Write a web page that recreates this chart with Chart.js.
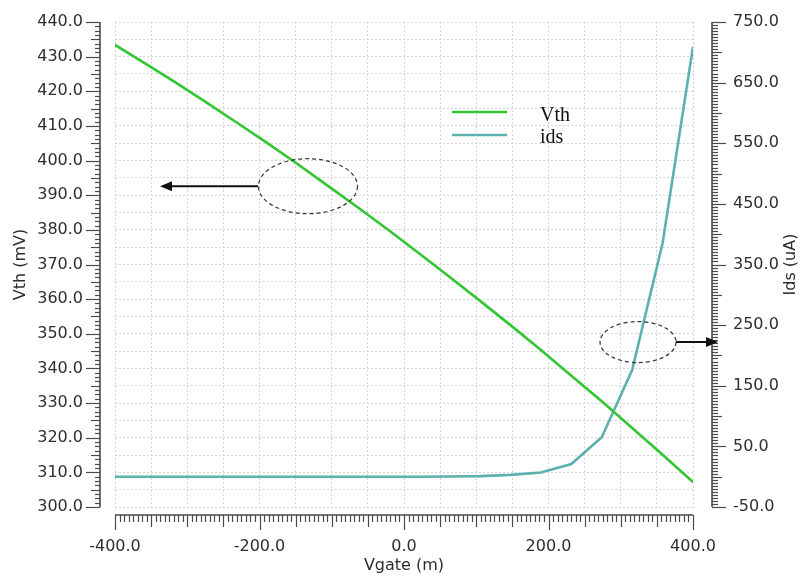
<!DOCTYPE html>
<html>
<head>
<meta charset="utf-8">
<script src="https://cdn.jsdelivr.net/npm/chart.js@4.4.1/dist/chart.umd.min.js"></script>
<style>
  html, body { margin: 0; padding: 0; background: #fff; }
  #wrap { width: 800px; height: 578px; }
</style>
</head>
<body>
<div id="wrap"><canvas id="c" width="800" height="578"></canvas></div>
<script>
"use strict";

// ── Data ─────────────────────────────────────────────────────────────────────
const VGATE = [-400, -357.9, -315.8, -273.7, -231.6, -189.5, -147.4, -105.3, -63.2, -21.1,
               21.1, 63.2, 105.3, 147.4, 189.5, 231.6, 273.7, 315.8, 357.9, 400];
const VTH   = [433.4, 428.0, 422.5, 416.8, 411.0, 405.1, 399.0, 392.7, 386.4, 379.9,
               373.2, 366.4, 359.5, 352.5, 345.3, 337.9, 330.5, 322.8, 315.1, 307.2];
const IDS   = [0, 0, 0, 0, 0, 0, 0, 0, 0, 0,
               0, 0.3, 1, 3, 7, 21, 65, 176, 385, 709];

const X_LABELS   = [-400, -200, 0, 200, 400];
const VTH_LABELS = [300, 310, 320, 330, 340, 350, 360, 370, 380, 390, 400, 410, 420, 430, 440];
const IDS_TICKS  = [-50, 50, 150, 250, 350, 450, 550, 650, 750];

const SERIES_NAMES = ["Vth", "ids"];
const GREEN = "#33c633";
const TEAL  = "#5cb1ae";

// ── Annotation ovals + arrows (data coords) ──
const NOTES = [
  { axis: "y",  cx: -132.9, cy: 392.6, rx: 49.5, ry: 27.5, from: -202.1, to: -337.7 },
  { axis: "y1", cx: 323.9,  cy: 222,   rx: 38,   ry: 20.5, from: 376.5,  to: 434.6 },
];

Chart.defaults.font.family = "'DejaVu Sans', sans-serif";
Chart.defaults.font.size = 16;
Chart.defaults.color = "#2e2e2e";

// tick marks are kept invisible: they only push the labels away from the plot
// (ticks.padding would also inflate the layout's top padding)
const gridWith = len => ({ color: "#d4d4d4", lineWidth: 1, drawTicks: true, tickLength: len, tickColor: "rgba(0,0,0,0)" });
const BORDER = { display: false, dash: [2, 2] };

function isMult(v, step) {
  const r = Math.abs(v / step - Math.round(v / step));
  return r < 1e-6;
}

// ── Ruler axes, titles, legend, annotations ──
const decorPlugin = {
  id: "decor",
  afterDraw(chart) {
    const { ctx, chartArea: a, scales } = chart;
    const x = scales.x, y = scales.y, y1 = scales.y1;
    ctx.save();
    ctx.strokeStyle = "#4a4a4a";

    const seg = (x0, y0, x1, y1_) => { ctx.beginPath(); ctx.moveTo(x0, y0); ctx.lineTo(x1, y1_); ctx.stroke(); };

    // left ruler
    const lx = a.left - 15;
    ctx.lineWidth = 1.6;
    seg(lx, a.top, lx, a.bottom);
    ctx.lineWidth = 1.2;
    for (let v = 300; v <= 440.001; v += 1.25) {
      const py = Math.round(y.getPixelForValue(v)) + 0.5;
      const len = isMult(v, 10) ? 14 : isMult(v, 5) ? 9 : 5;
      seg(lx, py, lx - len, py);
    }

    // right ruler
    const rx = a.right + 19;
    ctx.lineWidth = 1.6;
    seg(rx, a.top, rx, a.bottom);
    ctx.lineWidth = 1.2;
    for (let v = -50; v <= 750.001; v += 5) {
      const py = Math.round(y1.getPixelForValue(v)) + 0.5;
      const len = isMult(v + 50, 100) ? 14 : isMult(v, 50) ? 10 : 6;
      seg(rx, py, rx + len, py);
    }

    // bottom ruler
    const by = a.bottom + 8;
    ctx.lineWidth = 1.6;
    seg(a.left, by, a.right, by);
    ctx.lineWidth = 1.2;
    for (let v = -400; v <= 400.001; v += 6.25) {
      const px = Math.round(x.getPixelForValue(v)) + 0.5;
      const len = isMult(v, 200) ? 15 : isMult(v, 50) ? 12 : 7;
      seg(px, by, px, by + len);
    }

    // axis titles
    ctx.fillStyle = "#2e2e2e";
    ctx.font = "16px 'DejaVu Sans'";
    ctx.textAlign = "center";
    ctx.textBaseline = "middle";
    ctx.fillText("Vgate (m)", (a.left + a.right) / 2, 566);
    const midY = (a.top + a.bottom) / 2;
    [["Vth (mV)", 21], ["Ids (uA)", 791]].forEach(([t, tx]) => {
      ctx.save();
      ctx.translate(tx, midY);
      ctx.rotate(-Math.PI / 2);
      ctx.fillText(t, 0, 0);
      ctx.restore();
    });

    // legend
    const ds = chart.data.datasets;
    ctx.textAlign = "left";
    ctx.textBaseline = "alphabetic";
    ctx.font = "20px 'Liberation Serif'";
    [[112, 120.5], [135, 143]].forEach(([ly, ty], i) => {
      ctx.strokeStyle = ds[i].borderColor;
      ctx.lineWidth = 2.5;
      seg(452, ly, 507, ly);
      ctx.fillStyle = "#111";
      ctx.fillText(ds[i].label, 540, ty);
    });

    // annotations
    NOTES.forEach(n => {
      const ys = scales[n.axis];
      const cx = x.getPixelForValue(n.cx), cy = ys.getPixelForValue(n.cy);
      ctx.strokeStyle = "#333";
      ctx.lineWidth = 1.2;
      ctx.setLineDash([4, 3]);
      ctx.beginPath();
      ctx.ellipse(cx, cy, n.rx, n.ry, 0, 0, Math.PI * 2);
      ctx.stroke();
      ctx.setLineDash([]);
      const x0 = x.getPixelForValue(n.from), x1 = x.getPixelForValue(n.to);
      const dir = Math.sign(x1 - x0);
      ctx.strokeStyle = "#111";
      ctx.lineWidth = 2;
      seg(x0, cy, x1 - dir * 8, cy);
      ctx.fillStyle = "#111";
      ctx.beginPath();
      ctx.moveTo(x1, cy);
      ctx.lineTo(x1 - dir * 12, cy - 5);
      ctx.lineTo(x1 - dir * 12, cy + 5);
      ctx.closePath();
      ctx.fill();
    });

    ctx.restore();
  },
};

new Chart(document.getElementById("c"), {
  type: "line",
  data: {
    datasets: [
      {
        label: SERIES_NAMES[0], yAxisID: "y",
        data: VGATE.map((v, i) => ({ x: v, y: VTH[i] })),
        borderColor: GREEN, borderWidth: 2.6, pointRadius: 0, tension: 0, fill: false,
      },
      {
        label: SERIES_NAMES[1], yAxisID: "y1",
        data: VGATE.map((v, i) => ({ x: v, y: IDS[i] })),
        borderColor: TEAL, borderWidth: 2.6, pointRadius: 0, tension: 0, fill: false,
      },
    ],
  },
  options: {
    responsive: false,
    animation: false,
    devicePixelRatio: 1,
    layout: { padding: { top: 22, left: 0, right: 0, bottom: 0 } },
    plugins: { legend: { display: false }, tooltip: { enabled: false } },
    scales: {
      x: {
        type: "linear", min: -400, max: 400,
        grid: gridWith(30), border: BORDER,
        ticks: {
          stepSize: 50, autoSkip: false, maxRotation: 0, minRotation: 0, padding: 0,
          callback: v => X_LABELS.includes(v) ? v.toFixed(1) : "",
        },
        afterFit: s => { s.height = 71; },
      },
      y: {
        type: "linear", position: "left", min: 300, max: 440,
        grid: gridWith(32), border: BORDER,
        ticks: {
          stepSize: 5, autoSkip: false, padding: 0,
          callback: v => VTH_LABELS.includes(v) ? v.toFixed(1) : "",
        },
        afterFit: s => { s.width = 115; },
      },
      y1: {
        type: "linear", position: "right", min: -50, max: 750,
        grid: { drawOnChartArea: false, drawTicks: true, tickLength: 40, tickColor: "rgba(0,0,0,0)" },
        border: { display: false },
        ticks: { autoSkip: false, padding: 0, callback: v => v.toFixed(1) },
        afterBuildTicks: s => { s.ticks = IDS_TICKS.map(v => ({ value: v })); },
        afterFit: s => { s.width = 107; },
      },
    },
  },
  plugins: [decorPlugin],
});
</script>
</body>
</html>
